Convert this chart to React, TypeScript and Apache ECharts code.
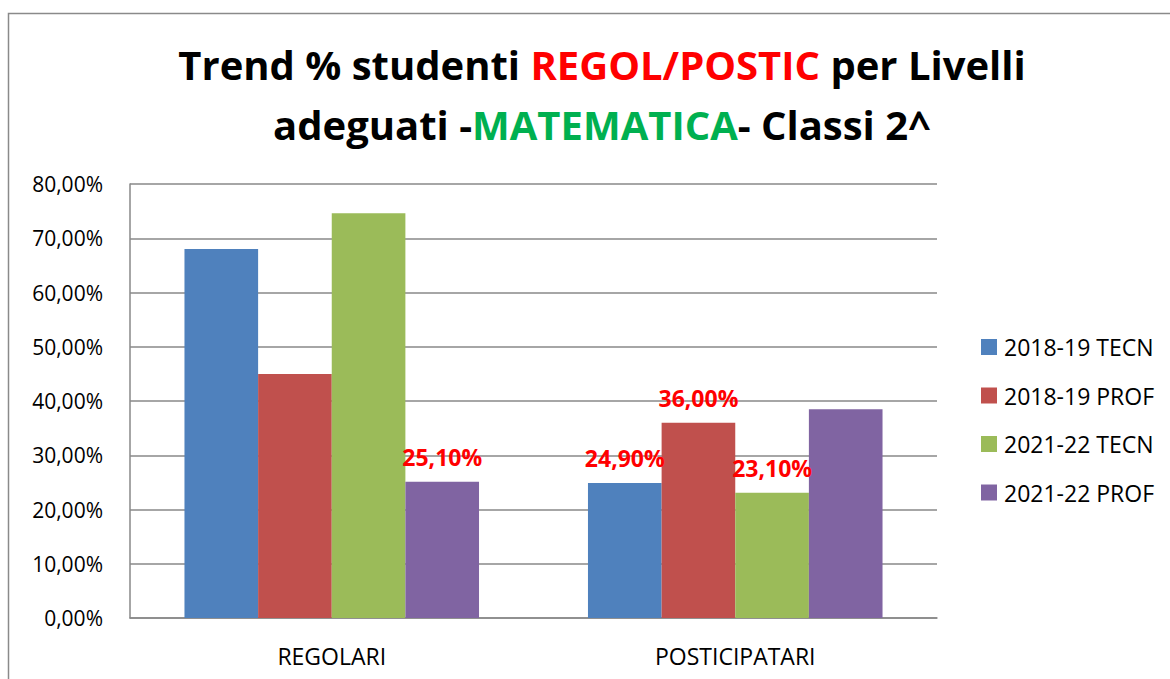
import React, { useEffect, useRef } from "react";
import * as echarts from "echarts";

const categories = ["REGOLARI", "POSTICIPATARI"];
const seriesNames = ["2018-19 TECN", "2018-19 PROF", "2021-22 TECN", "2021-22 PROF"];
const tecn1819 = [68.0, 24.9];
const prof1819 = [45.0, 36.0];
const tecn2122 = [74.6, 23.1];
const prof2122 = [25.1, 38.5];
// which points carry a data label (per series, per category)
const labelled1819T = [false, true];
const labelled1819P = [false, true];
const labelled2122T = [false, true];
const labelled2122P = [true, false];
const colors = ["#4F81BD", "#C0504D", "#9BBB59", "#8064A2"];

const fmt = (v: number) => v.toFixed(2).replace(".", ",") + "%";

export default function App() {
  const ref = useRef<HTMLDivElement>(null);
  useEffect(() => {
    if (!ref.current) return;
    const chart = echarts.init(ref.current, null, { renderer: "svg" });
    const values = [tecn1819, prof1819, tecn2122, prof2122];
    const flags = [labelled1819T, labelled1819P, labelled2122T, labelled2122P];
    const font = "'Open Sans', Lato, sans-serif";
    const t = { fontFamily: font, fontWeight: "bold", fontSize: 40, lineHeight: 60 };
    chart.setOption({
      animation: false,
      backgroundColor: "#fff",
      title: {
        text: "{b|Trend % studenti }{r|REGOL/POSTIC}{b| per Livelli}\n{b|adeguati -}{g|MATEMATICA}{b|- Classi 2^}",
        left: 597,
        textAlign: "center",
        top: 29,
        textStyle: {
          rich: {
            b: { ...t, color: "#000" },
            r: { ...t, color: "#FF0000" },
            g: { ...t, color: "#00B050" },
          },
        },
      },
      graphic: [
        {
          type: "rect",
          shape: { x: 8.5, y: 13.5, width: 1200, height: 700 },
          style: { fill: "none", stroke: "#8a8a8a", lineWidth: 1.5 },
          silent: true,
        },
      ],
      legend: {
        orient: "vertical",
        left: 981,
        top: 335,
        padding: 0,
        itemWidth: 16,
        itemHeight: 16,
        itemGap: 24.5,
        icon: "rect",
        textStyle: { fontFamily: font, fontSize: 23, lineHeight: 24, color: "#000", padding: [0, 0, 0, 2] },
        data: seriesNames,
      },
      grid: { left: 130, right: 233, top: 184, bottom: 61, containLabel: false },
      xAxis: {
        type: "category",
        data: categories,
        axisLine: { lineStyle: { color: "#888", width: 1.5 } },
        axisTick: { show: false },
        axisLabel: { fontFamily: font, fontSize: 23, color: "#000", margin: 26 },
      },
      yAxis: {
        type: "value",
        min: 0,
        max: 80,
        interval: 10,
        axisLine: { show: true, lineStyle: { color: "#888", width: 1.5 } },
        axisTick: { show: false },
        splitLine: { lineStyle: { color: "#888", width: 1.5 } },
        axisLabel: { fontFamily: font, fontSize: 21, color: "#000", margin: 27, formatter: (v: number) => fmt(v) },
      },
      series: seriesNames.map((name, i) => ({
        name,
        type: "bar",
        barGap: "0%",
        barCategoryGap: "27%",
        itemStyle: { color: colors[i] },
        data: values[i].map((v, j) => ({
          value: v,
          label: {
            show: flags[i][j],
            position: "top",
            distance: 13,
            fontFamily: font,
            fontWeight: "bold",
            fontSize: 23,
            color: "#FF0000",
            formatter: (p: any) => fmt(p.value),
          },
        })),
      })),
    });
    return () => chart.dispose();
  }, []);
  return <div ref={ref} style={{ position: "fixed", left: 0, top: 0, width: 1170, height: 679 }} />;
}
